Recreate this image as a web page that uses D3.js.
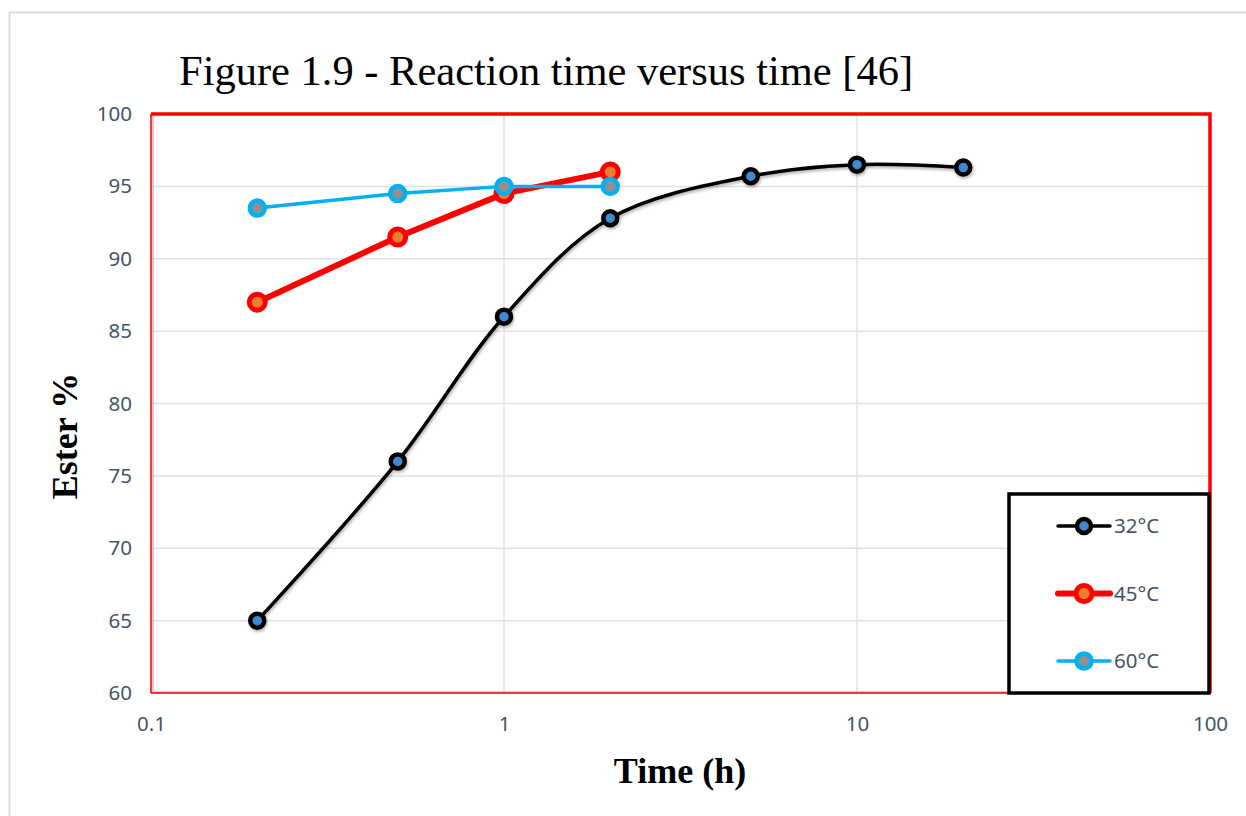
<!DOCTYPE html>
<html>
<head>
<meta charset="utf-8">
<script src="https://cdn.jsdelivr.net/npm/d3@7"></script>
<style>
  body { margin: 0; background: #fff; }
  svg { display: block; }
</style>
</head>
<body>
<svg id="chart" width="1246" height="816"></svg>
<script>
// values
var times32 = [0.2, 0.5, 1, 2, 5, 10, 20];
var ester32 = [65, 76, 86, 92.8, 95.7, 96.5, 96.3];
var times45 = [0.2, 0.5, 1, 2];
var ester45 = [87, 91.5, 94.5, 96];
var times60 = [0.2, 0.5, 1, 2];
var ester60 = [93.5, 94.5, 95, 95];
var xTicks = [0.1, 1, 10, 100];
var yTicks = [60, 65, 70, 75, 80, 85, 90, 95, 100];
var seriesNames = ["32°C", "45°C", "60°C"];

var margin = { top: 114, right: 36, bottom: 123, left: 151 };
var width = 1246, height = 816;

var svg = d3.select("#chart");

// outer frame of the chart area
svg.append("rect")
    .attr("x", 9.5).attr("y", 12.5)
    .attr("width", 1260).attr("height", 830)
    .attr("fill", "#fff")
    .attr("stroke", "#d9dde3")
    .attr("stroke-width", 2);

var x = d3.scaleLog()
    .domain([0.1, 100])
    .range([margin.left, width - margin.right]);
var y = d3.scaleLinear()
    .domain([60, 100])
    .range([height - margin.bottom, margin.top]);

// drop shadow like the spreadsheet
var defs = svg.append("defs");
var f = defs.append("filter").attr("id", "shadow")
    .attr("x", "-10%").attr("y", "-10%").attr("width", "120%").attr("height", "130%");
f.append("feDropShadow")
    .attr("dx", 1).attr("dy", 2).attr("stdDeviation", 1.5)
    .attr("flood-color", "#000").attr("flood-opacity", 0.3);

// gridlines
svg.append("g")
  .selectAll("line")
  .data(yTicks)
  .enter().append("line")
    .attr("x1", x(0.1)).attr("x2", x(100))
    .attr("y1", d => y(d)).attr("y2", d => y(d))
    .attr("stroke", "#dde1e7").attr("stroke-width", 1.5);
svg.append("g")
  .selectAll("line")
  .data(xTicks)
  .enter().append("line")
    .attr("x1", d => x(d)).attr("x2", d => x(d))
    .attr("y1", y(60)).attr("y2", y(100))
    .attr("stroke", "#dde1e7").attr("stroke-width", 1.5);

// axes
var xAxis = g => g
    .attr("transform", "translate(0," + (y(60) + 4) + ")")
    .call(d3.axisBottom(x).tickValues(xTicks).tickFormat(d3.format("")).tickSize(0).tickPadding(19))
    .call(g => g.select(".domain").remove());
var yAxis = g => g
    .attr("transform", "translate(" + (x(0.1) - 19) + ",0)")
    .call(d3.axisLeft(y).tickValues(yTicks).tickSize(0).tickPadding(0))
    .call(g => g.select(".domain").remove());

svg.append("g").call(xAxis);
svg.append("g").call(yAxis);
svg.selectAll(".tick text")
    .attr("fill", "#44546a")
    .attr("font-family", "'Noto Sans', sans-serif")
    .attr("font-size", 20.5)
    .style("font-family", "'Noto Sans', sans-serif")
    .style("font-size", "20.5px");

// plot border: gray axis lines inside a red frame
svg.append("line")
    .attr("x1", x(0.1) + 2).attr("x2", x(100))
    .attr("y1", y(60) - 1).attr("y2", y(60) - 1)
    .attr("stroke", "#bfbfbf").attr("stroke-width", 1.5);
svg.append("line")
    .attr("x1", x(0.1) + 2).attr("x2", x(0.1) + 2)
    .attr("y1", y(100)).attr("y2", y(60))
    .attr("stroke", "#bfbfbf").attr("stroke-width", 1.5);
svg.append("path")
    .attr("d", "M" + x(0.1) + "," + y(60) + "V" + y(100))
    .attr("stroke", "#ff0000").attr("stroke-width", 1.5).attr("fill", "none");
svg.append("path")
    .attr("d", "M" + x(0.1) + "," + y(60) + "H" + x(100))
    .attr("stroke", "#ff0000").attr("stroke-width", 1.5).attr("fill", "none");
svg.append("path")
    .attr("d", "M" + x(0.1) + "," + y(100) + "H" + x(100) + "V" + y(60))
    .attr("stroke", "#ff0000").attr("stroke-width", 3.5).attr("fill", "none");

// series
var series = [
  { name: seriesNames[0], t: times32, v: ester32, line: "#000000", fill: "#3f88cf", lw: 3.5, r: 7, mw: 4.5, curve: d3.curveCatmullRom.alpha(0.5) },
  { name: seriesNames[1], t: times45, v: ester45, line: "#ff0000", fill: "#ed7d31", lw: 6, r: 8, mw: 5, curve: d3.curveLinear },
  { name: seriesNames[2], t: times60, v: ester60, line: "#00b0f0", fill: "#909090", lw: 3.5, r: 7.5, mw: 4.5, curve: d3.curveLinear }
];

var drawOrder = [0, 1, 2];
drawOrder.forEach(function(k) {
  var s = series[k];
  var pts = s.t.map((t, i) => [t, s.v[i]]);
  var line = d3.line()
      .x(d => x(d[0]))
      .y(d => y(d[1]))
      .curve(s.curve);
  var g = svg.append("g").attr("filter", k === 0 ? "url(#shadow)" : null);
  g.append("path")
      .datum(pts)
      .attr("d", line)
      .attr("fill", "none")
      .attr("stroke", s.line)
      .attr("stroke-width", s.lw)
      .attr("stroke-linejoin", "round")
      .attr("stroke-linecap", "round");
  g.selectAll("circle")
      .data(pts)
      .enter().append("circle")
      .attr("cx", d => x(d[0]))
      .attr("cy", d => y(d[1]))
      .attr("r", s.r)
      .attr("fill", s.fill)
      .attr("stroke", s.line)
      .attr("stroke-width", s.mw);
});

// legend
var legend = svg.append("g");
legend.append("rect")
    .attr("x", 1009).attr("y", 494)
    .attr("width", 200).attr("height", 199)
    .attr("fill", "#fff")
    .attr("stroke", "#000")
    .attr("stroke-width", 3.5);
series.forEach(function(s, i) {
  var ly = 526 + i * 67.5;
  legend.append("line")
      .attr("x1", 1058).attr("x2", 1110)
      .attr("y1", ly).attr("y2", ly)
      .attr("stroke", s.line).attr("stroke-width", s.lw)
      .attr("stroke-linecap", "round");
  legend.append("circle")
      .attr("cx", 1084).attr("cy", ly)
      .attr("r", s.r)
      .attr("fill", s.fill)
      .attr("stroke", s.line)
      .attr("stroke-width", s.mw);
  legend.append("text")
      .attr("x", 1114).attr("y", ly)
      .attr("dy", "0.35em")
      .attr("fill", "#44546a")
      .style("font-family", "'Noto Sans', sans-serif")
      .style("font-size", "20.5px")
      .text(s.name);
});

// titles
svg.append("text")
    .attr("x", 179).attr("y", 85)
    .style("font-family", "'Liberation Serif', 'Times New Roman', serif")
    .style("font-size", "42.5px")
    .attr("fill", "#000")
    .text("Figure 1.9 - Reaction time versus time [46]");

svg.append("text")
    .attr("x", 680).attr("y", 783)
    .attr("text-anchor", "middle")
    .style("font-family", "'Liberation Serif', 'Times New Roman', serif")
    .style("font-size", "36px")
    .style("font-weight", "bold")
    .text("Time (h)");

svg.append("text")
    .attr("transform", "translate(77,436) rotate(-90)")
    .attr("text-anchor", "middle")
    .style("font-family", "'Liberation Serif', 'Times New Roman', serif")
    .style("font-size", "36px")
    .style("font-weight", "bold")
    .text("Ester %");
</script>
</body>
</html>
